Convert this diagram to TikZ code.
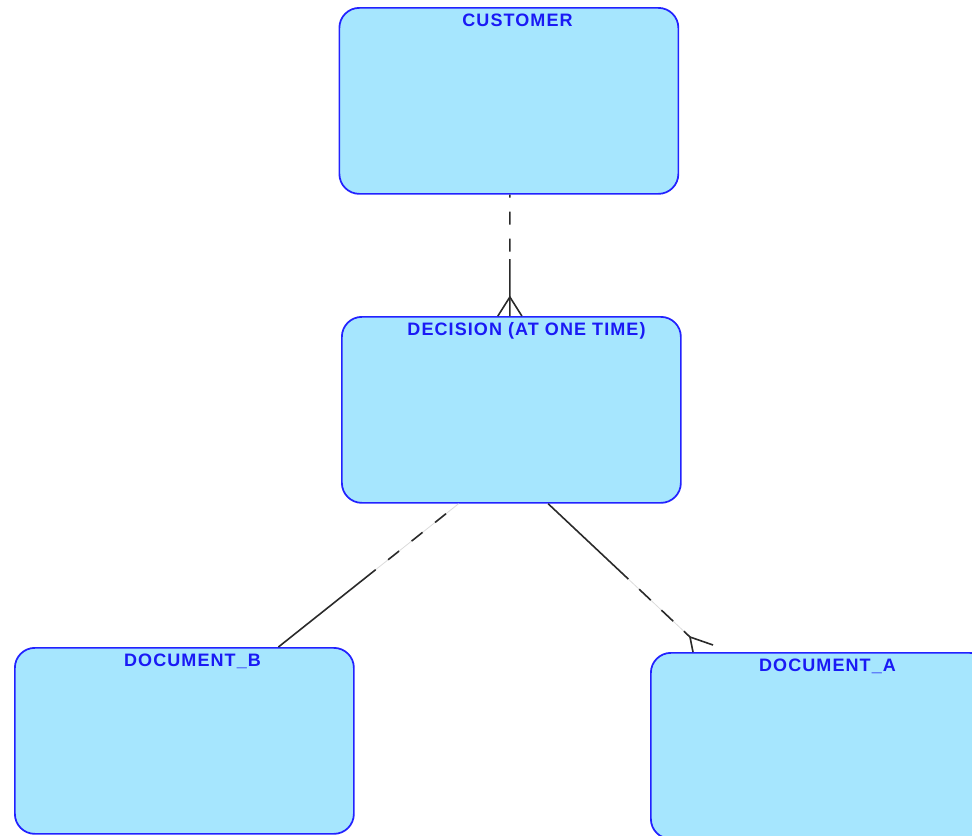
\documentclass[tikz,border=0pt]{standalone}
\usepackage{fontspec}
\setmainfont{Liberation Sans}
\newfontfamily\lblfont[LetterSpace=6]{Liberation Sans}
\usetikzlibrary{calc}
\definecolor{boxfill}{HTML}{A6E6FE}
\definecolor{boxdraw}{HTML}{2222FF}
\definecolor{lbltext}{HTML}{1A1AF5}
\definecolor{relline}{HTML}{2A2A2A}
\begin{document}
\begin{tikzpicture}[x=0.75pt,y=-0.75pt,
  entity/.style={draw=boxdraw,fill=boxfill,line width=1.3pt,rounded corners=15pt,
    minimum width=254.25pt,minimum height=139.5pt,anchor=north west,inner sep=0pt},
  lbl/.style={text=lbltext,font=\lblfont\bfseries\fontsize{13.5}{16}\selectfont,inner sep=0pt,anchor=base},
  rel/.style={draw=relline,line width=1.2pt},
  gapline/.style={draw=black!14,line width=0.6pt}]
\clip (0,0) rectangle (972,836);
% entities
\node[entity] (cust) at (338.5,7) {};
\node[entity] (dec)  at (341,316) {};
\node[entity] (docB) at (14,647) {};
\node[entity] (docA) at (650,652) {};
% labels
\node[lbl] (custlbl) at ($(cust.north west)+(179,19)$) {CUSTOMER};
\node[lbl] (declbl)  at ($(dec.north west)+(185.5,19)$) {DECISION (AT ONE TIME)};
\node[lbl] (docBlbl) at ($(docB.north west)+(178.5,19)$) {DOCUMENT\_B};
\node[lbl] (docAlbl) at ($(docA.north west)+(177.5,19)$) {DOCUMENT\_A};
% connector 1: CUSTOMER -- DECISION
\coordinate (c1s) at ([xshift=0.75pt]cust.south);
\coordinate (c1e) at (c1s |- dec.north);
\coordinate (c1m) at ($(c1s)!0.53!(c1e)$);
\coordinate (c1a) at ($(c1e)+(0,-19)$);
\draw[rel,dash pattern=on 9.75pt off 10.5pt,dash phase=7.5pt] (c1s) -- (c1m);
\draw[rel] (c1m) -- (c1e);
\draw[rel] ($(c1e)+(-12,0)$) -- (c1a) -- ($(c1e)+(12,0)$);
% connector 2: DECISION -- DOCUMENT_B
\coordinate (c2s) at ($(dec.south west)!0.345!(dec.south east)$);
\coordinate (c2e) at ($(docB.north west)!0.776!(docB.north east)$);
\coordinate (c2m) at ($(c2s)!0.46!(c2e)$);
\draw[gapline] (c2s) -- (c2m);
\draw[rel,dash pattern=on 10.5pt off 12pt,dash phase=10.5pt] (c2s) -- (c2m);
\draw[rel] (c2m) -- (c2e);
% connector 3: DECISION -- DOCUMENT_A
\coordinate (c3s) at ($(dec.south west)!0.608!(dec.south east)$);
\coordinate (c3a) at ($(docA.north west)+(40,-15)$);
\coordinate (c3m) at ($(c3s)!0.566!(c3a)$);
\draw[rel] (c3s) -- (c3m);
\draw[gapline] (c3m) -- (c3a);
\draw[rel,dash pattern=on 12pt off 11pt,dash phase=12pt] (c3m) -- (c3a);
\draw[rel] ($(docA.north west)+(43,0)$) -- (c3a) -- ($(docA.north west)+(63,-7)$);
\end{tikzpicture}
\end{document}
